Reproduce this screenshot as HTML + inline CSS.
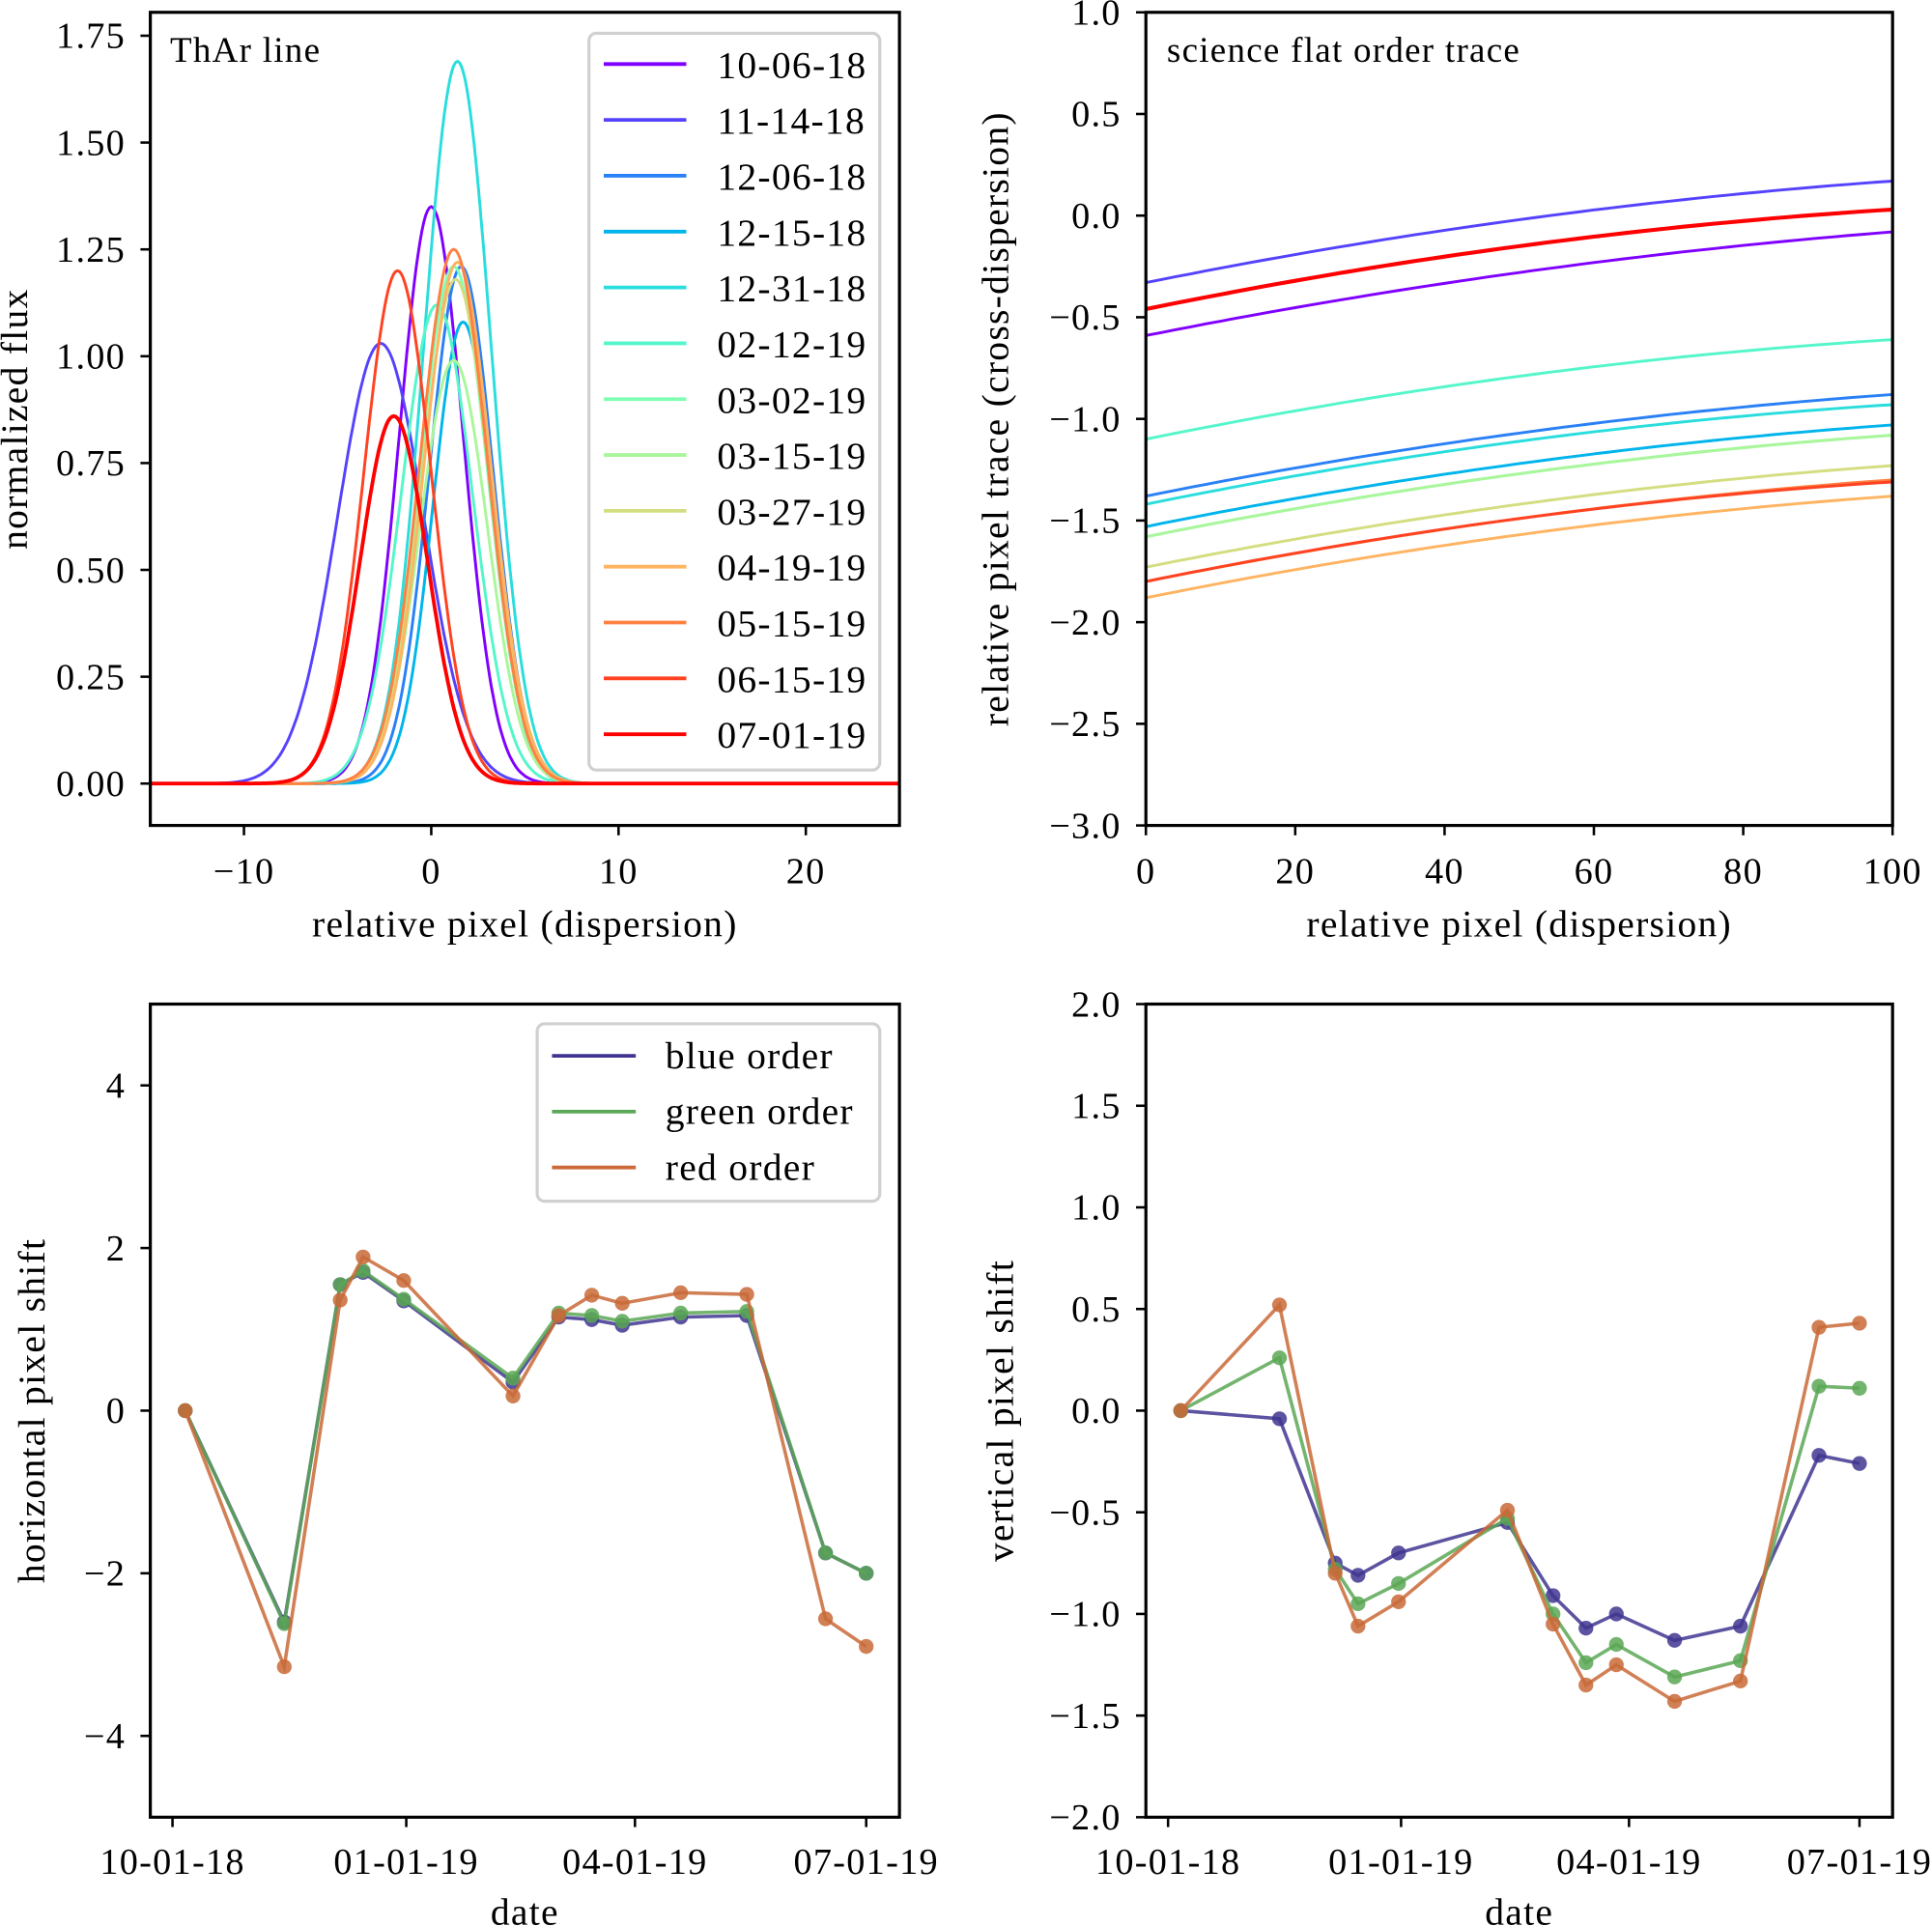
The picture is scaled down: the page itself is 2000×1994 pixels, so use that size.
<!DOCTYPE html>
<html><head><meta charset="utf-8"><style>
html,body{margin:0;padding:0;background:#fff}
svg{display:block;font-family:"Liberation Serif",serif}
text{letter-spacing:1px}
</style></head><body>
<svg id="fig" xmlns="http://www.w3.org/2000/svg" width="2000" height="1994" viewBox="0 0 1568 1563.3" preserveAspectRatio="none">
<rect width="1568" height="1564" fill="#fff"/>
<g id="g1"></g>
<g id="g2"></g>
<g id="g3"></g>
<g id="g4"></g>
</svg>
<script>
const dates = ["10-06-18","11-14-18","12-06-18","12-15-18","12-31-18","02-12-19","03-02-19","03-15-19","03-27-19","04-19-19","05-15-19","06-15-19","07-01-19"];
const dayOffsets = [5,44,66,75,91,134,152,165,177,200,226,257,273];
const colors = ["#8000ff","#5542fd","#2a80f6","#00b4ec","#2adddd","#55f6ca","#80ffb4","#aaf69b","#d4dd80","#ffb462","#ff8042","#ff4221","#ff0000"];
// ThAr gaussian fits
const peakAmp = [1.35,1.03,1.21,1.08,1.69,1.12,1.21,0.99,1.18,1.22,1.25,1.20,0.86];
const peakCenter = [0.0,-2.7,1.6,1.7,1.4,0.3,1.2,1.2,1.3,1.4,1.2,-1.8,-2.0];
const peakSigma = [1.7,2.3,1.7,1.6,1.8,1.9,1.8,1.8,1.8,1.8,1.8,1.8,1.8];
// order trace (x = 0, 50, 100)
const traceStart = [-0.59,-0.33,-1.38,-1.53,-1.42,-1.10,-1.58,-1.58,-1.73,-1.88,-1.80,-1.80,-0.46];
const traceMid = [-0.28,-0.02,-1.07,-1.22,-1.11,-0.79,-1.27,-1.27,-1.42,-1.57,-1.49,-1.49,-0.15];
const traceEnd = [-0.08,0.17,-0.88,-1.03,-0.93,-0.61,-1.08,-1.08,-1.23,-1.38,-1.30,-1.31,0.03];
// pixel shifts
const hBlue = [0,-2.6,1.55,1.7,1.35,0.35,1.15,1.12,1.05,1.15,1.17,-1.75,-2.0];
const hGreen = [0,-2.62,1.55,1.72,1.37,0.4,1.2,1.17,1.1,1.2,1.22,-1.75,-2.0];
const hRed = [0,-3.15,1.36,1.89,1.6,0.18,1.17,1.42,1.32,1.45,1.43,-2.56,-2.9];
const vBlue = [0,-0.04,-0.75,-0.81,-0.70,-0.55,-0.91,-1.07,-1.0,-1.13,-1.06,-0.22,-0.26];
const vGreen = [0,0.26,-0.78,-0.95,-0.85,-0.53,-1.0,-1.24,-1.15,-1.31,-1.23,0.12,0.11];
const vRed = [0,0.52,-0.8,-1.06,-0.94,-0.49,-1.05,-1.35,-1.25,-1.43,-1.33,0.41,0.43];
const dateTicks = [0,92,182,273];
const dateTickLabels = ["10-01-18","01-01-19","04-01-19","07-01-19"];

const NS="http://www.w3.org/2000/svg";
function mk(parent,tag,attrs,text){const e=document.createElementNS(NS,tag);for(const k in attrs)e.setAttribute(k,attrs[k]);if(text!==undefined)e.textContent=text;parent.appendChild(e);return e;}
function lin(d0,d1,r0,r1){return v=>r0+(v-d0)/(d1-d0)*(r1-r0);}
function fmt(v,dec){const s=Math.abs(v).toFixed(dec);return (v<0?"\u2212":"")+s;}
const TF=30, LF=31;

function axes(g,L,R,T,B,xs,ys,xt,xl,yt,yl,xlabel,ylabel,ylabX,xlabY,xtY){
  const xa=mk(g,'g',{});
  
  
  xt.forEach((t,i)=>{const x=xs(t);mk(xa,'line',{x1:x,x2:x,y1:B,y2:B+8,stroke:'#000','stroke-width':2});
    const tx=mk(xa,'text',{x:x,y:xtY,'text-anchor':'middle','font-size':TF},xl[i]);
    
    });
  const ya=mk(g,'g',{});
  
  
  yt.forEach((t,i)=>{const y=ys(t);mk(ya,'line',{x1:L-8,x2:L,y1:y,y2:y,stroke:'#000','stroke-width':2});
    const tx=mk(ya,'text',{x:L-20,y:y+10,'text-anchor':'end','font-size':TF},yl[i]);
    
    });
  const xt2=mk(g,'text',{x:(L+R)/2,y:xlabY,'text-anchor':'middle','font-size':LF,'letter-spacing':1.8},xlabel);
  
  
  const cy=(T+B)/2;
  const yt2=mk(g,'text',{x:ylabX,y:cy,'text-anchor':'middle','font-size':LF,'letter-spacing':1.8,transform:`rotate(-90 ${ylabX} ${cy})`},ylabel);
  
  
}
function frame(g,L,R,T,B){const f=mk(g,'rect',{x:L,y:T,width:R-L,height:B-T,fill:'none',stroke:'#000','stroke-width':2.5});
  
  }

// Panel 1
(function(){
  const g=document.getElementById('g1');const L=122,R=730,T=10,B=670;
  const xs=lin(-15,25,L,R), ys=lin(0,1.75,636,29);
  const cp=mk(g,'clipPath',{id:'c1'});mk(cp,'rect',{x:L,y:T,width:R-L,height:B-T});
  const pg=mk(g,'g',{'clip-path':'url(#c1)'});
  dates.forEach((d,i)=>{let p='';for(let x=-15;x<=25.001;x+=0.1){const y=peakAmp[i]*Math.exp(-0.5*Math.pow((x-peakCenter[i])/peakSigma[i],2));p+=(p?'L':'M')+xs(x).toFixed(1)+' '+ys(y).toFixed(1);}
    const e=mk(pg,'path',{d:p,fill:'none',stroke:colors[i],'stroke-width':i===12?3:2.3});
    
    });
  frame(g,L,R,T,B);
  axes(g,L,R,T,B,xs,ys,[-10,0,10,20],["\u221210","0","10","20"],[0,.25,.5,.75,1,1.25,1.5,1.75],[0,.25,.5,.75,1,1.25,1.5,1.75].map(v=>v.toFixed(2)),"relative pixel (dispersion)","normalized flux",22,760,717);
  const tt=mk(g,'text',{x:138,y:50,'font-size':29},"ThAr line");
  
  
  const lg=mk(g,'g',{});
  
  
  mk(lg,'rect',{x:478,y:27,width:236,height:598,rx:6,fill:'#fff','fill-opacity':0.8,stroke:'#d0d0d0','stroke-width':2.5});
  dates.forEach((d,i)=>{const y=52+i*45.33;const e=mk(lg,'g',{});
    
    
    mk(e,'line',{x1:490,x2:557,y1:y,y2:y,stroke:colors[i],'stroke-width':3});
    mk(e,'text',{x:582,y:y+11,'font-size':31,'letter-spacing':1.3},d);});
})();

// Panel 2
(function(){
  const g=document.getElementById('g2');const L=930,R=1536,T=10,B=670;
  const xs=lin(0,100,L,R), ys=lin(-3,1,B,T);
  dates.forEach((d,i)=>{const a=traceStart[i],m=traceMid[i],b=traceEnd[i];let p='';
    for(let x=0;x<=100;x+=2){const t=x/100;const y=a*(1-t)*(1-2*t)+m*4*t*(1-t)+b*t*(2*t-1);p+=(p?'L':'M')+xs(x).toFixed(1)+' '+ys(y).toFixed(1);}
    const e=mk(g,'path',{d:p,fill:'none',stroke:colors[i],'stroke-width':i===12?3.2:2.3});
    
    });
  frame(g,L,R,T,B);
  const yt=[-3,-2.5,-2,-1.5,-1,-0.5,0,0.5,1];
  axes(g,L,R,T,B,xs,ys,[0,20,40,60,80,100],["0","20","40","60","80","100"],yt,yt.map(v=>fmt(v,1)),"relative pixel (dispersion)","relative pixel trace (cross-dispersion)",818,760,717);
  const tt=mk(g,'text',{x:947,y:50,'font-size':29},"science flat order trace");
  
  
})();

function shiftPanel(id,T,B,L,R,ymin,ymax,yt,ydec,ylabel,ylabX,series,legend,tick0){
  const g=document.getElementById(id);
  const xs=lin(0,273,tick0,tick0+563*(R-L)/608), ys=lin(ymin,ymax,B,T);
  const cols=["#3f3590","#5aa755","#c96a38"], names=["blue","green","red"];
  series.forEach((s,k)=>{const sg=mk(g,'g',{});
    
    
    mk(sg,'polyline',{points:s.map((v,i)=>xs(dayOffsets[i]).toFixed(1)+','+ys(v).toFixed(1)).join(' '),fill:'none',stroke:cols[k],'stroke-width':2.8,'stroke-opacity':0.85});
    s.forEach((v,i)=>{const c=mk(sg,'circle',{cx:xs(dayOffsets[i]),cy:ys(v),r:6,fill:cols[k],'fill-opacity':0.85});
      
      });});
  frame(g,L,R,T,B);
  axes(g,L,R,T,B,xs,ys,dateTicks,dateTickLabels,yt,yt.map(v=>fmt(v,ydec)),"date",ylabel,ylabX,1562,1521);
  if(legend){const lg=mk(g,'g',{});
    
    
    mk(lg,'rect',{x:436,y:831,width:278,height:144,rx:6,fill:'#fff','fill-opacity':0.8,stroke:'#d0d0d0','stroke-width':2.5});
    ["blue order","green order","red order"].forEach((n,k)=>{const y=857+k*45.3;const e=mk(lg,'g',{});
      
      
      mk(e,'line',{x1:448,x2:516,y1:y,y2:y,stroke:cols[k],'stroke-width':3});
      mk(e,'text',{x:540,y:y+10,'font-size':31,'letter-spacing':1.5},n);});}
}
shiftPanel('g3',815,1475,122,730,-5,5,[-4,-2,0,2,4],0,"horizontal pixel shift",36,[hBlue,hGreen,hRed],true,140);
shiftPanel('g4',815,1475,930,1536,-2,2,[-2,-1.5,-1,-0.5,0,0.5,1,1.5,2],1,"vertical pixel shift",822,[vBlue,vGreen,vRed],false,948);
</script>
</body></html>
